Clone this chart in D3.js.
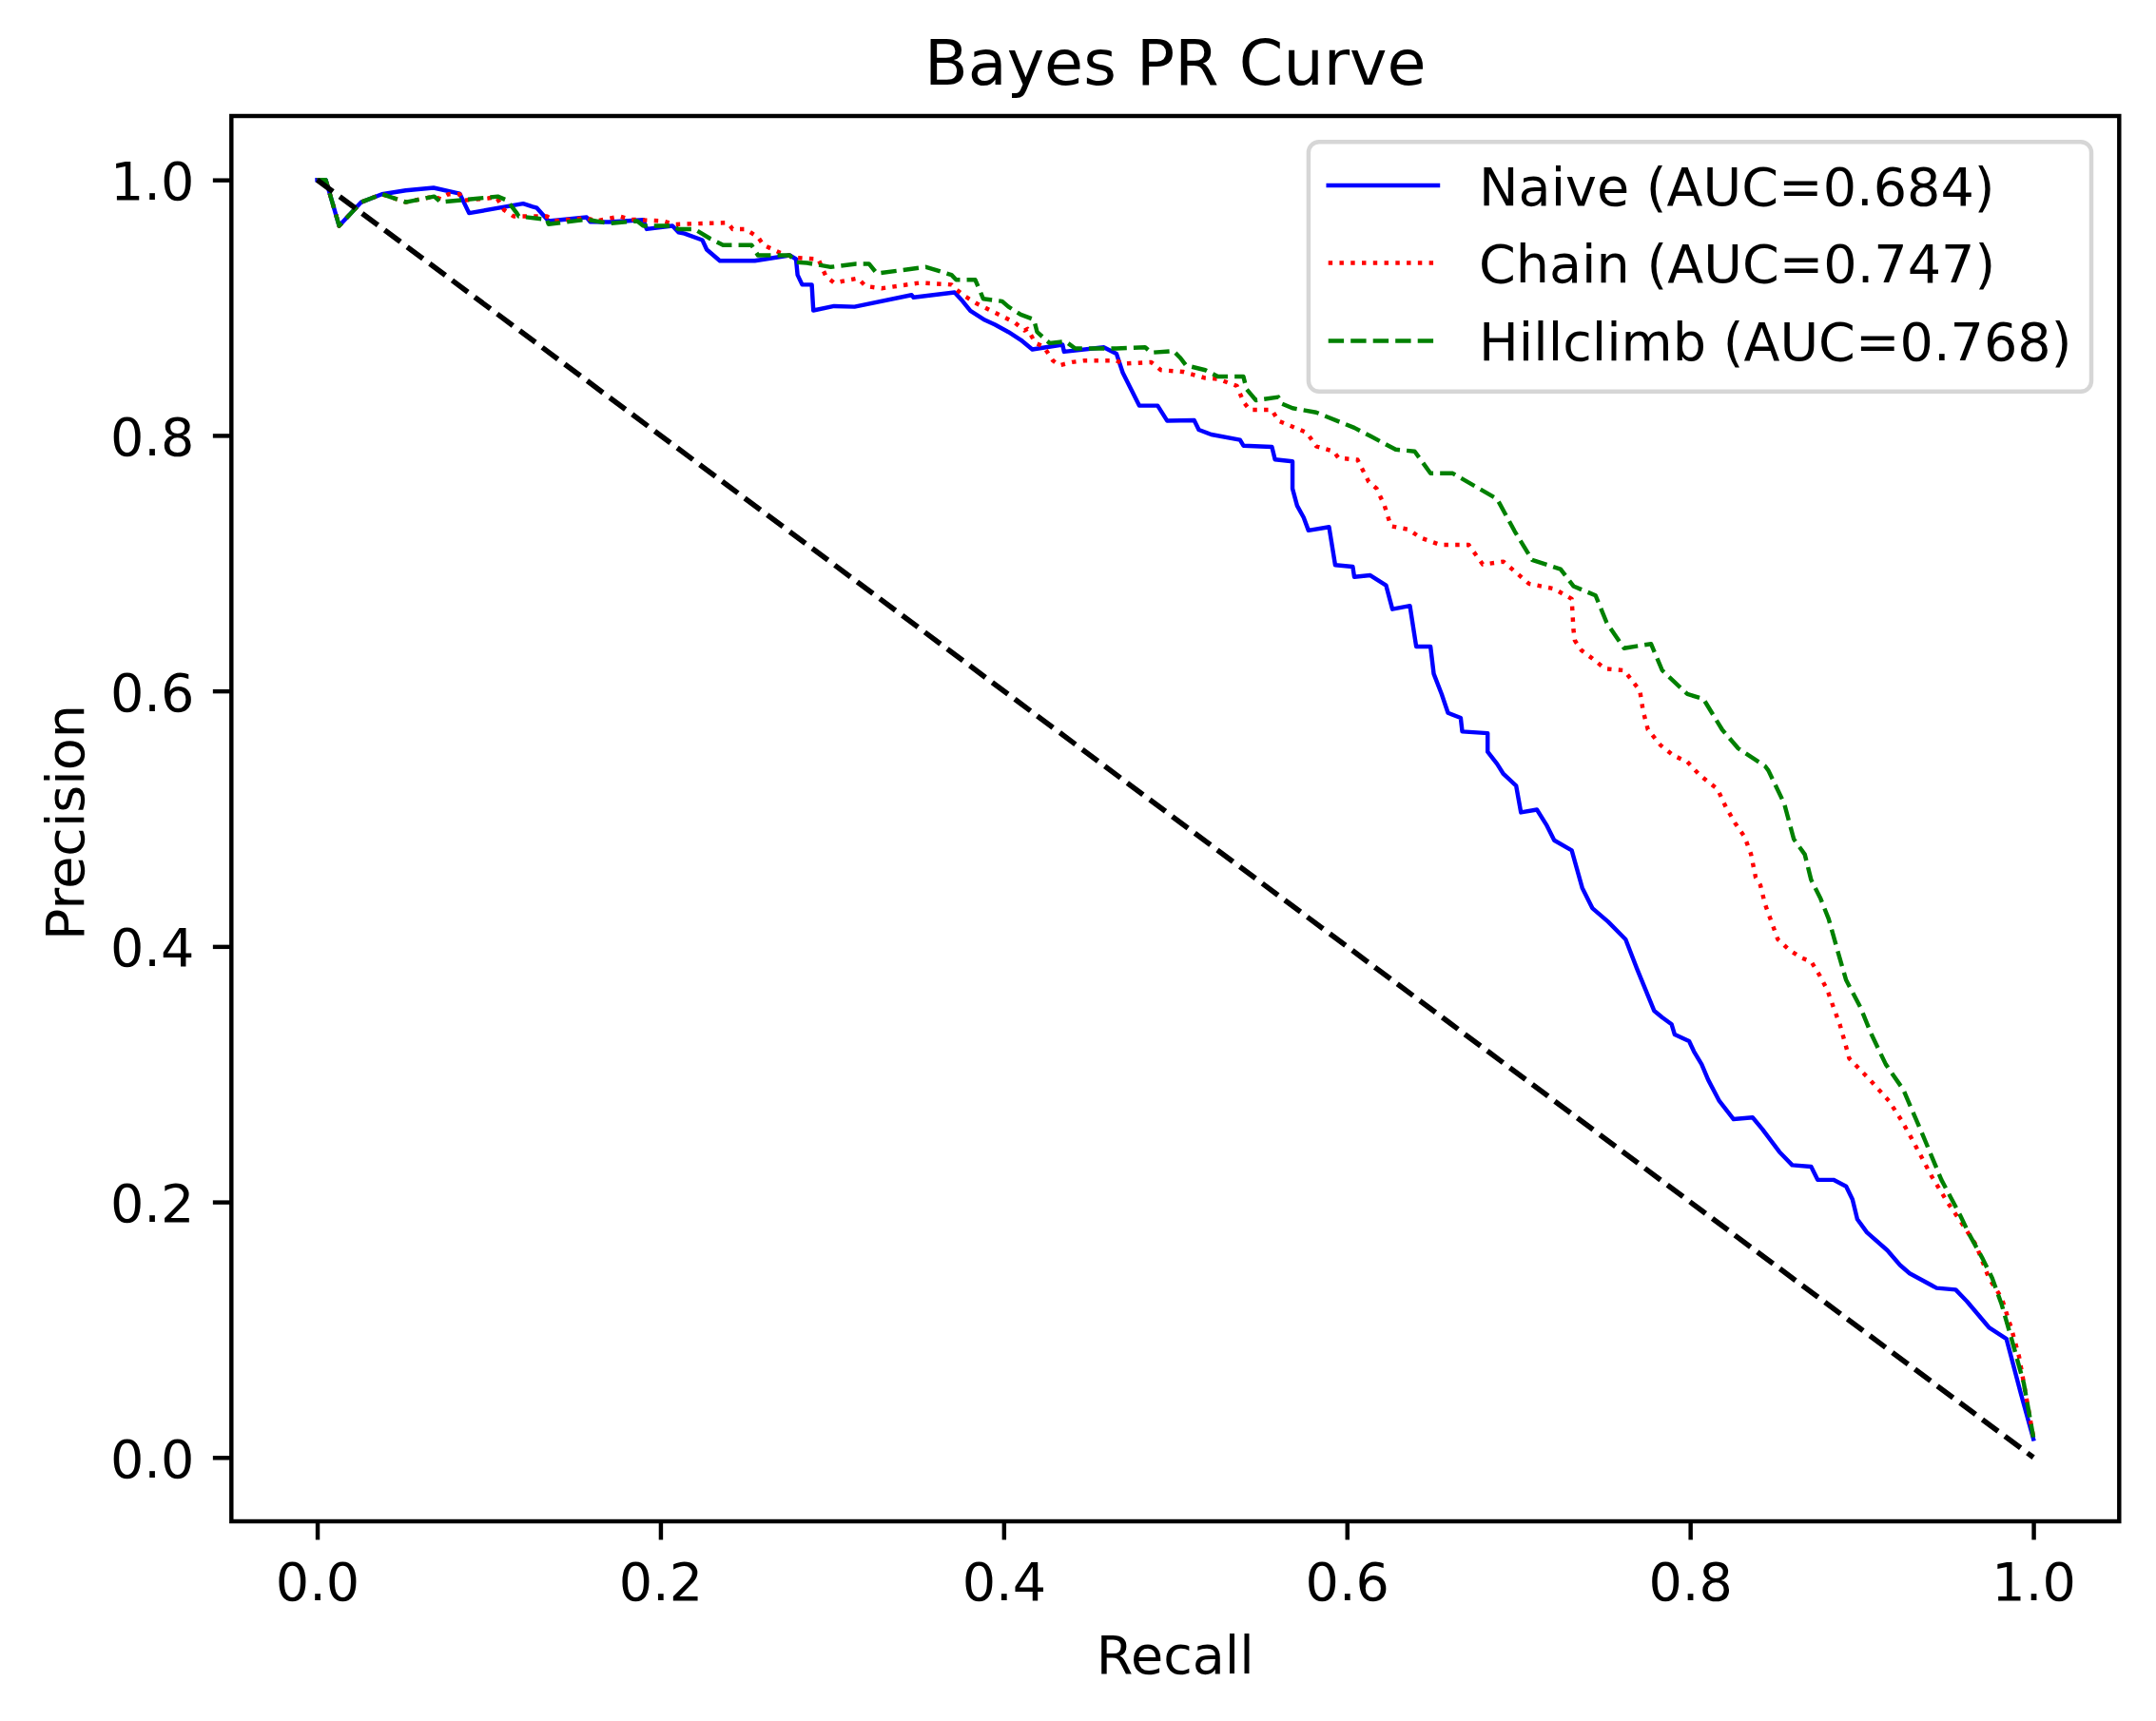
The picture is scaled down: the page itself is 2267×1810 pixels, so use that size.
<!DOCTYPE html>
<html>
<head>
<meta charset="utf-8">
<script src="https://cdn.jsdelivr.net/npm/d3@7"></script>
<style>
  html, body { margin: 0; padding: 0; background: #ffffff; }
  svg { display: block; }
  text { font-family: "DejaVu Sans", sans-serif; fill: #000; }
</style>
</head>
<body>
<svg id="chart" width="2267" height="1810"></svg>
<script>
// ---------------- data ----------------
const xTicks = [0.0, 0.2, 0.4, 0.6, 0.8, 1.0];
const yTicks = [0.0, 0.2, 0.4, 0.6, 0.8, 1.0];

const seriesNames = ["Naive (AUC=0.684)", "Chain (AUC=0.747)", "Hillclimb (AUC=0.768)"];

// [recall, precision]
const naive = [
  [0,1.0],[0.005,1.0],[0.0128,0.964],[0.0257,0.9826],[0.0377,0.9888],[0.0516,0.9918],[0.0678,0.9938],
  [0.083,0.9893],[0.0885,0.974],[0.12,0.9814],[0.1255,0.979],[0.128,0.978],[0.1348,0.9678],[0.157,0.9707],
  [0.159,0.9672],[0.17,0.967],[0.19,0.9687],[0.192,0.9615],[0.207,0.964],[0.2105,0.959],[0.214,0.958],
  [0.2244,0.9529],[0.227,0.9454],[0.2346,0.9367],[0.255,0.9367],[0.2753,0.941],[0.279,0.938],[0.2799,0.9256],
  [0.2826,0.918],[0.2882,0.918],[0.2891,0.8978],[0.3012,0.9012],[0.3131,0.9007],[0.3464,0.9099],[0.3475,0.908],
  [0.3714,0.9119],[0.376,0.9052],[0.3806,0.8975],[0.389,0.8903],[0.395,0.8866],[0.4028,0.8809],[0.410,0.8747],
  [0.4167,0.8673],[0.4343,0.871],[0.4352,0.8655],[0.4583,0.869],[0.4657,0.864],[0.4694,0.849],[0.479,0.8233],
  [0.4897,0.8233],[0.4953,0.8114],[0.511,0.8119],[0.5137,0.8044],[0.521,0.8007],[0.5377,0.7965],[0.5397,0.792],
  [0.5563,0.791],[0.5581,0.7811],[0.5683,0.7797],[0.5683,0.7584],[0.571,0.745],[0.5748,0.7357],[0.5776,0.7256],
  [0.5896,0.7283],[0.5932,0.6985],[0.6034,0.6972],[0.6043,0.6892],[0.6136,0.6905],[0.6228,0.6826],[0.6265,0.664],
  [0.6367,0.6666],[0.6404,0.6347],[0.6487,0.6347],[0.6506,0.6134],[0.6552,0.5975],[0.6589,0.5828],[0.6663,0.5789],
  [0.6672,0.5682],[0.682,0.5669],[0.682,0.5523],[0.6875,0.5429],[0.6912,0.535],[0.6986,0.5258],[0.7014,0.5049],
  [0.7107,0.5071],[0.7162,0.4953],[0.7208,0.4831],[0.731,0.4752],[0.7371,0.4459],[0.743,0.430],[0.7522,0.4193],
  [0.7624,0.4055],[0.7689,0.3829],[0.779,0.3497],[0.7837,0.3444],[0.7892,0.339],[0.791,0.331],[0.7994,0.3258],
  [0.8022,0.3178],[0.8067,0.3077],[0.8105,0.2956],[0.817,0.279],[0.8253,0.2648],[0.8364,0.2661],[0.842,0.2571],
  [0.852,0.2392],[0.8595,0.2288],[0.8705,0.2276],[0.8743,0.2173],[0.8835,0.2173],[0.8909,0.2122],[0.8946,0.202],
  [0.8974,0.1865],[0.903,0.1762],[0.9149,0.1621],[0.9223,0.1506],[0.9279,0.1441],[0.9436,0.1326],[0.9547,0.1313],
  [0.9612,0.1223],[0.9741,0.1018],[0.9843,0.0928],[0.9926,0.0505],[1.0,0.0145]
];

const chain = [
  [0,1.0],[0.005,1.0],[0.0128,0.964],[0.0257,0.9826],[0.0377,0.9888],[0.0516,0.9826],[0.068,0.987],[0.072,0.985],
  [0.0765,0.9888],[0.083,0.9888],[0.085,0.9839],[0.0996,0.9856],[0.1044,0.9866],[0.1089,0.9764],[0.1144,0.9715],
  [0.1338,0.9715],[0.1385,0.9678],[0.157,0.9702],[0.1625,0.9678],[0.1764,0.9715],[0.1828,0.969],[0.2013,0.9678],
  [0.2078,0.9652],[0.2392,0.9665],[0.242,0.9615],[0.2494,0.9615],[0.2568,0.9553],[0.26,0.949],[0.2697,0.943],
  [0.279,0.939],[0.292,0.938],[0.2965,0.9243],[0.3012,0.9194],[0.315,0.923],[0.3196,0.9168],[0.3289,0.9151],
  [0.3511,0.9194],[0.3696,0.918],[0.3723,0.9144],[0.3769,0.9094],[0.3843,0.9032],[0.3917,0.8982],[0.3991,0.8933],
  [0.4065,0.8883],[0.4121,0.8821],[0.4139,0.8834],[0.4185,0.8722],[0.4232,0.8697],[0.4287,0.8586],[0.4324,0.8548],
  [0.4398,0.8573],[0.4472,0.8586],[0.4657,0.8586],[0.4694,0.8561],[0.486,0.8573],[0.4916,0.8511],[0.5045,0.8498],
  [0.5175,0.8449],[0.5248,0.8442],[0.5359,0.8387],[0.5397,0.8263],[0.5433,0.82],[0.5563,0.82],[0.56,0.8114],
  [0.5766,0.8022],[0.5821,0.7915],[0.5923,0.7875],[0.5951,0.7823],[0.6062,0.7809],[0.6127,0.7637],[0.6173,0.7584],
  [0.6219,0.745],[0.6256,0.729],[0.6358,0.7264],[0.6431,0.7198],[0.6542,0.7144],[0.6709,0.7144],[0.6792,0.699],
  [0.6912,0.7012],[0.7061,0.6839],[0.7208,0.6799],[0.731,0.672],[0.732,0.648],[0.7328,0.6395],[0.7365,0.632],
  [0.743,0.6254],[0.7504,0.6174],[0.7615,0.6161],[0.7707,0.6002],[0.7726,0.5842],[0.7754,0.5697],[0.7827,0.5576],
  [0.7901,0.5496],[0.7984,0.5444],[0.8059,0.5337],[0.816,0.523],[0.8206,0.5097],[0.8262,0.4965],[0.8317,0.4858],
  [0.8354,0.4725],[0.8382,0.4539],[0.8409,0.448],[0.8437,0.4328],[0.8511,0.4055],[0.8577,0.3973],[0.8651,0.3909],
  [0.8705,0.3882],[0.8753,0.3777],[0.88,0.3657],[0.8835,0.3524],[0.8872,0.339],[0.89,0.3258],[0.8927,0.3123],
  [0.903,0.2981],[0.9159,0.279],[0.9233,0.2635],[0.9297,0.2481],[0.9408,0.2199],[0.9501,0.1994],[0.9593,0.1813],
  [0.9667,0.166],[0.9741,0.1403],[0.9815,0.1249],[0.987,0.1018],[0.9917,0.0787],[1.0,0.0158]
];

const hillclimb = [
  [0,1.0],[0.005,1.0],[0.0128,0.964],[0.0257,0.9826],[0.0377,0.9888],[0.0516,0.9826],[0.0682,0.987],[0.0719,0.9826],
  [0.1052,0.987],[0.1107,0.9839],[0.1163,0.974],[0.1174,0.9715],[0.1338,0.969],[0.1348,0.9653],[0.157,0.969],
  [0.17,0.966],[0.1865,0.9678],[0.19,0.964],[0.2069,0.964],[0.2105,0.9615],[0.2198,0.9615],[0.229,0.954],
  [0.2365,0.949],[0.2531,0.949],[0.2568,0.941],[0.2753,0.941],[0.279,0.9355],[0.2854,0.935],[0.2993,0.9318],
  [0.314,0.9343],[0.3215,0.9343],[0.3261,0.9268],[0.3547,0.9318],[0.3696,0.9256],[0.3723,0.9218],[0.3834,0.9218],
  [0.3862,0.9131],[0.3881,0.9069],[0.3991,0.905],[0.4028,0.9007],[0.410,0.8945],[0.4176,0.8908],[0.4195,0.8809],
  [0.4268,0.8722],[0.4361,0.8735],[0.4417,0.868],[0.4657,0.868],[0.4824,0.869],[0.486,0.8648],[0.499,0.866],
  [0.5027,0.861],[0.5063,0.8548],[0.5175,0.8511],[0.5248,0.8461],[0.5397,0.8461],[0.5415,0.8362],[0.547,0.8275],
  [0.56,0.830],[0.5618,0.825],[0.5683,0.8213],[0.5821,0.818],[0.6043,0.806],[0.6136,0.7995],[0.6284,0.7889],
  [0.6395,0.7875],[0.6487,0.7703],[0.6617,0.7703],[0.6875,0.7503],[0.6977,0.7251],[0.7079,0.7026],[0.7245,0.6953],
  [0.732,0.682],[0.7449,0.6747],[0.7514,0.6533],[0.7615,0.6334],[0.7772,0.6368],[0.7837,0.6161],[0.7984,0.5975],
  [0.8077,0.5938],[0.8187,0.5696],[0.8281,0.5549],[0.8437,0.5411],[0.8456,0.5377],[0.8548,0.5119],[0.8604,0.484],
  [0.8668,0.472],[0.8705,0.4521],[0.876,0.4374],[0.8807,0.4216],[0.8863,0.3948],[0.8909,0.3736],[0.8992,0.3524],
  [0.9057,0.331],[0.914,0.3077],[0.9242,0.2879],[0.9353,0.2532],[0.9464,0.2173],[0.9575,0.1891],[0.963,0.1737],
  [0.9704,0.1557],[0.976,0.1403],[0.9815,0.1198],[0.987,0.0941],[0.9944,0.0581],[1.0,0.0158]
];

const diagonal = [[0, 1], [1, 0]];

// ---------------- layout ----------------
const svg = d3.select("#chart");
const L = 243.3, R = 2228.3, T = 122, B = 1600;
const x = d3.scaleLinear().domain([-0.05, 1.05]).range([L, R]);
const y = d3.scaleLinear().domain([-0.05, 1.05]).range([B, T]);

const FS = 55.6;    // tick / label font size (10pt @ 400dpi)
const LW = 4.44;    // spine / tick width (0.8pt)

const line = d3.line().x(d => x(d[0])).y(d => y(d[1]));

const styles = [
  { color: "#0000ff", dash: null, width: 4.44 },
  { color: "#ff0000", dash: "4.44,7.33", width: 4.44 },
  { color: "#008000", dash: "16.4,7.1", width: 4.44 }
];
const data = [naive, chain, hillclimb];

// clip
svg.append("clipPath").attr("id", "clip")
  .append("rect").attr("x", L).attr("y", T).attr("width", R - L).attr("height", B - T);

const plot = svg.append("g").attr("clip-path", "url(#clip)");

data.forEach((d, i) => {
  plot.append("path")
    .datum(d)
    .attr("d", line)
    .attr("fill", "none")
    .attr("stroke", styles[i].color)
    .attr("stroke-width", styles[i].width)
    .attr("stroke-dasharray", styles[i].dash)
    .attr("stroke-linejoin", "round")
    .attr("stroke-linecap", styles[i].dash ? "butt" : "square");
});

plot.append("path")
  .datum(diagonal)
  .attr("d", line)
  .attr("fill", "none")
  .attr("stroke", "#000")
  .attr("stroke-width", 5.56)
  .attr("stroke-dasharray", "20.6,8.9")
  .attr("stroke-linecap", "butt");

// axes
const xAxis = d3.axisBottom(x).tickValues(xTicks).tickFormat(d3.format(".1f"))
  .tickSize(19.44).tickPadding(24);
const gx = svg.append("g").attr("transform", `translate(0,${B})`).call(xAxis);
gx.select(".domain").remove();
gx.selectAll(".tick line").attr("stroke", "#000").attr("stroke-width", LW);
gx.selectAll(".tick text").attr("font-size", FS).attr("font-family", "DejaVu Sans").attr("fill", "#000");

const yAxis = d3.axisLeft(y).tickValues(yTicks).tickFormat(d3.format(".1f"))
  .tickSize(19.44).tickPadding(19.44);
const gy = svg.append("g").attr("transform", `translate(${L},0)`).call(yAxis);
gy.select(".domain").remove();
gy.selectAll(".tick line").attr("stroke", "#000").attr("stroke-width", LW);
gy.selectAll(".tick text").attr("font-size", FS).attr("font-family", "DejaVu Sans")
  .attr("fill", "#000").attr("dy", "0.37em");

// frame
svg.append("rect")
  .attr("x", L).attr("y", T).attr("width", R - L).attr("height", B - T)
  .attr("fill", "none").attr("stroke", "#000").attr("stroke-width", LW)
  .attr("stroke-linejoin", "miter");

// title and labels
svg.append("text").attr("x", (L + R) / 2).attr("y", 88.7)
  .attr("text-anchor", "middle").attr("font-size", 66.7).text("Bayes PR Curve");
svg.append("text").attr("x", (L + R) / 2).attr("y", 1760)
  .attr("text-anchor", "middle").attr("font-size", FS).text("Recall");
svg.append("text")
  .attr("transform", `translate(88,${(T + B) / 2 + 4}) rotate(-90)`)
  .attr("text-anchor", "middle").attr("font-size", FS).text("Precision");

// legend
const lg = svg.append("g");
lg.append("rect")
  .attr("x", 1375.9).attr("y", 149.3).attr("width", 2199 - 1375.9).attr("height", 411.7 - 149.3)
  .attr("rx", 11).attr("ry", 11)
  .attr("fill", "#ffffff").attr("fill-opacity", 0.8)
  .attr("stroke", "#cccccc").attr("stroke-opacity", 0.8).attr("stroke-width", 4.44);

const rowY = [195, 276.5, 358.5];
seriesNames.forEach((name, i) => {
  lg.append("line")
    .attr("x1", 1396.7).attr("x2", 1512).attr("y1", rowY[i]).attr("y2", rowY[i])
    .attr("stroke", styles[i].color).attr("stroke-width", styles[i].width)
    .attr("stroke-dasharray", styles[i].dash)
    .attr("stroke-linecap", styles[i].dash ? "butt" : "square");
  lg.append("text").attr("x", 1555).attr("y", rowY[i] + 20.5)
    .attr("font-size", FS).text(name);
});
</script>
</body>
</html>
